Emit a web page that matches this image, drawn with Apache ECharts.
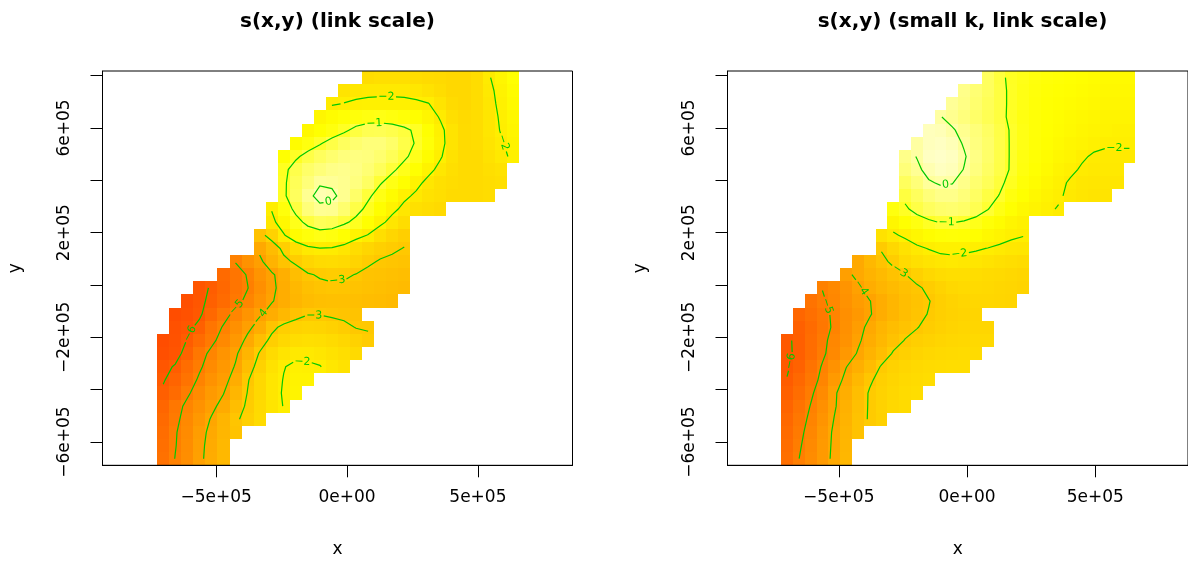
<!DOCTYPE html>
<html>
<head>
<meta charset="utf-8">
<title>s(x,y)</title>
<script src="https://cdn.jsdelivr.net/npm/echarts@6/dist/echarts.min.js"></script>
<style>
  html, body { margin: 0; padding: 0; background: #fff; }
  #chart { width: 1188px; height: 569px; }
</style>
</head>
<body>
<div id="chart"></div>
<script>
const _ = null;

// vis.gam prediction grid: 30 x 30 cell centres
const xGridRange = [-7.02e5, 6.33e5];
const yGridRange = [-6.635e5, 7.922e5];
// plotted region (asp = 1 widens x)
const xLimits = [-9.339e5, 8.613e5];
const yLimits = [-6.887e5, 8.174e5];

const xTicks = [-5e5, 0, 5e5];
const yTicks = [-6e5, -4e5, -2e5, 0, 2e5, 4e5, 6e5, 8e5];
const yTickLabels = [-6e5, -2e5, 2e5, 6e5];
const contourLevels = [-6, -5, -4, -3, -2, -1, 0];
const colourRange = [-8.5, 0.75];

const titles = ['s(x,y) (link scale)', 's(x,y) (small k, link scale)'];

// fitted surface, link scale. first row = top of the plot, null = too far from data
const zFull = [
  [_,_,_,_,_, _,_,_,_,_, _,_,_,_,_, _,_, -2.45,-2.4,-2.4,-2.4,-2.45,-2.5,-2.55,-2.6,-2.6,-2.45,-2.05,-1.75,-1.5],
  [_,_,_,_,_, _,_,_,_,_, _,_,_,_,_, -2.25,-2.15,-2.1,-2.1,-2.1,-2.1,-2.15,-2.3,-2.45,-2.6,-2.6,-2.45,-2.12,-1.85,-1.6],
  [_,_,_,_,_, _,_,_,_,_, _,_,_,_, -2.05,-1.98,-1.92,-1.9,-1.88,-1.88,-1.9,-1.93,-1.98,-2.25,-2.5,-2.6,-2.45,-2.15,-1.9,-1.65],
  [_,_,_,_,_, _,_,_,_,_, _,_,_, -1.75,-1.6,-1.45,-1.35,-1.28,-1.25,-1.3,-1.4,-1.55,-1.75,-2.05,-2.4,-2.55,-2.45,-2.18,-1.95,-1.72],
  [_,_,_,_,_, _,_,_,_,_, _,_, -1.7,-1.5,-1.3,-1.1,-0.85,-0.7,-0.68,-0.75,-0.88,-1.1,-1.5,-1.88,-2.25,-2.5,-2.45,-2.2,-1.98,-1.78],
  [_,_,_,_,_, _,_,_,_,_, _, -1.6,-1.3,-1.05,-0.8,-0.6,-0.45,-0.35,-0.35,-0.5,-0.78,-1.05,-1.4,-1.85,-2.25,-2.5,-2.45,-2.25,-2.05,-1.85],
  [_,_,_,_,_, _,_,_,_,_, -1.5,-1.1,-0.8,-0.6,-0.45,-0.32,-0.28,-0.32,-0.45,-0.65,-0.9,-1.2,-1.6,-1.95,-2.3,-2.5,-2.5,-2.3,-2.12,-1.92],
  [_,_,_,_,_, _,_,_,_,_, -1.15,-0.75,-0.5,-0.35,-0.22,-0.18,-0.25,-0.4,-0.62,-0.9,-1.2,-1.5,-1.85,-2.15,-2.4,-2.5,-2.5,-2.4,-2.3, _],
  [_,_,_,_,_, _,_,_,_,_, -1.1,-0.65,-0.35,-0.05,-0.08,-0.15,-0.3,-0.55,-0.95,-1.25,-1.55,-1.85,-2.15,-2.35,-2.45,-2.5,-2.5,-2.45,-2.4, _],
  [_,_,_,_,_, _,_,_,_,_, -1.1,-0.6,-0.12,0.15,0.1,-0.15,-0.5,-0.9,-1.25,-1.6,-1.88,-2.1,-2.3,-2.4,-2.5,-2.5,-2.5,-2.45, _,_],
  [_,_,_,_,_, _,_,_,_, -1.97,-1.35,-0.85,-0.35,-0.12,-0.15,-0.45,-0.8,-1.15,-1.55,-1.85,-2.15,-2.35,-2.45,-2.55, _,_,_,_,_,_],
  [_,_,_,_,_, _,_,_,_, -2.15,-1.7,-1.2,-0.85,-0.65,-0.7,-0.9,-1.15,-1.5,-1.85,-2.2,-2.45, _,_,_,_,_, _,_,_,_],
  [_,_,_,_,_, _,_,_, -3.2,-2.75,-2.05,-1.6,-1.35,-1.25,-1.3,-1.5,-1.8,-2.03,-2.4,-2.65,-2.85, _,_,_,_,_, _,_,_,_],
  [_,_,_,_,_, _,_,_, -3.85,-3.35,-2.85,-2.4,-2.12,-2.02,-2.05,-2.2,-2.45,-2.65,-2.8,-2.92,-3.02, _,_,_,_,_, _,_,_,_],
  [_,_,_,_,_, _, -4.97,-4.5,-4.15,-3.6,-3.15,-2.9,-2.65,-2.5,-2.48,-2.55,-2.7,-2.9,-3.05,-3.1,-3.15, _,_,_,_,_, _,_,_,_],
  [_,_,_,_,_, -5.6,-5.3,-4.95,-4.45,-4.1,-3.7,-3.3,-3.05,-2.95,-2.9,-2.92,-3.02,-3.15,-3.2,-3.25,-3.3, _,_,_,_,_, _,_,_,_],
  [_,_,_, -6.15,-5.95,-5.65,-5.3,-5.02,-4.6,-4.15,-3.75,-3.45,-3.25,-3.12,-3.08,-3.1,-3.15,-3.22,-3.28,-3.33,-3.38, _,_,_,_,_, _,_,_,_],
  [_,_, -6.35,-6.15,-5.85,-5.55,-5.2,-4.85,-4.45,-4.05,-3.75,-3.5,-3.35,-3.28,-3.25,-3.25,-3.28,-3.32,-3.36,-3.4, _,_,_,_,_, _,_,_,_,_],
  [_, -6.4,-6.3,-6.1,-5.65,-5.2,-4.85,-4.45,-4.1,-3.75,-3.45,-3.2,-3.02,-3.02,-3.08,-3.12,-3.15, _,_,_,_,_, _,_,_,_,_, _,_,_],
  [_, -6.3,-6.15,-5.85,-5.3,-4.95,-4.55,-4.15,-3.75,-3.15,-2.85,-2.72,-2.68,-2.7,-2.78,-2.88,-3.02,-3.03, _,_,_,_,_, _,_,_,_,_, _,_],
  [-6.4,-6.25,-5.98,-5.55,-5.15,-4.75,-4.35,-3.85,-3.3,-2.85,-2.6,-2.45,-2.4,-2.42,-2.5,-2.62,-2.75,-2.93, _,_,_,_,_, _,_,_,_,_, _,_],
  [-6.35,-6.2,-5.8,-5.25,-4.85,-4.45,-4.1,-3.55,-2.95,-2.5,-2.25,-2.12,-2.12,-2.18,-2.3,-2.42,-2.55, _,_,_,_,_, _,_,_,_,_, _,_,_],
  [-6.15,-5.95,-5.5,-5.1,-4.7,-4.35,-3.95,-3.3,-2.75,-2.3,-2.02,-1.9,-1.92,-1.98,-2.15,-2.3, _,_,_,_,_, _,_,_,_,_, _,_,_,_],
  [-6.05,-5.75,-5.35,-4.9,-4.5,-4.2,-3.75,-3.05,-2.6,-2.2,-1.98,-1.85,-1.85, _,_,_,_,_, _,_,_,_,_, _,_,_,_,_, _,_],
  [-5.9,-5.55,-5.1,-4.7,-4.3,-4.02,-3.5,-2.98,-2.6,-2.2,-1.95,-1.8, _,_,_,_,_, _,_,_,_,_, _,_,_,_,_, _,_,_],
  [-5.7,-5.25,-4.85,-4.5,-4.15,-3.8,-3.3,-2.9,-2.55,-2.22,-1.98, _,_,_,_,_, _,_,_,_,_, _,_,_,_,_, _,_,_,_],
  [-5.6,-5.15,-4.75,-4.35,-3.95,-3.55,-3.1,-2.8,-2.5, _,_,_,_,_, _,_,_,_,_, _,_,_,_,_, _,_,_,_,_, _],
  [-5.5,-5.05,-4.7,-4.2,-3.85,-3.5,-3.15, _,_,_,_,_, _,_,_,_,_, _,_,_,_,_, _,_,_,_,_, _,_,_],
  [-5.45,-5.03,-4.65,-4.15,-3.8,-3.45, _,_,_,_,_, _,_,_,_,_, _,_,_,_,_, _,_,_,_,_, _,_,_,_],
  [-5.4,-4.98,-4.62,-4.12,-3.78,-3.45, _,_,_,_,_, _,_,_,_,_, _,_,_,_,_, _,_,_,_,_, _,_,_,_]
];

const zSmallK = [
  [_,_,_,_,_, _,_,_,_,_, _,_,_,_,_, _,_, -0.6,-0.88,-1.12,-1.22,-1.32,-1.4,-1.45,-1.5,-1.55,-1.6,-1.65,-1.65,-1.65],
  [_,_,_,_,_, _,_,_,_,_, _,_,_,_,_, -0.2,-0.4,-0.6,-0.85,-1.1,-1.25,-1.35,-1.45,-1.5,-1.55,-1.6,-1.65,-1.7,-1.7,-1.7],
  [_,_,_,_,_, _,_,_,_,_, _,_,_,_, -0.08,-0.25,-0.45,-0.65,-0.85,-1.1,-1.25,-1.38,-1.48,-1.55,-1.6,-1.65,-1.7,-1.75,-1.75,-1.75],
  [_,_,_,_,_, _,_,_,_,_, _,_,_, 0.02,-0.15,-0.32,-0.5,-0.68,-0.87,-1.1,-1.27,-1.4,-1.5,-1.58,-1.65,-1.7,-1.75,-1.8,-1.82,-1.82],
  [_,_,_,_,_, _,_,_,_,_, _,_, 0.25,0.2,0.05,-0.15,-0.35,-0.55,-0.8,-1.05,-1.25,-1.4,-1.52,-1.6,-1.68,-1.75,-1.8,-1.85,-1.88,-1.9],
  [_,_,_,_,_, _,_,_,_,_, _, 0.02,0.25,0.3,0.2,-0.05,-0.3,-0.5,-0.78,-1.05,-1.25,-1.42,-1.55,-1.65,-1.75,-1.82,-1.9,-1.95,-1.95,-1.95],
  [_,_,_,_,_, _,_,_,_,_, -0.2,0.02,0.3,0.35,0.28,0.05,-0.25,-0.5,-0.78,-1.05,-1.28,-1.45,-1.6,-1.72,-1.82,-1.95,-2.05,-2.08,-2.08,-2.08],
  [_,_,_,_,_, _,_,_,_,_, -0.35,-0.1,0.15,0.28,0.22,-0.02,-0.3,-0.55,-0.8,-1.05,-1.3,-1.5,-1.65,-1.8,-1.92,-2.05,-2.1,-2.12,-2.12, _],
  [_,_,_,_,_, _,_,_,_,_, -0.6,-0.35,-0.05,0.05,0.02,-0.2,-0.45,-0.65,-0.9,-1.15,-1.4,-1.6,-1.75,-1.9,-2.05,-2.15,-2.18,-2.2,-2.2, _],
  [_,_,_,_,_, _,_,_,_,_, -0.85,-0.6,-0.35,-0.2,-0.2,-0.35,-0.55,-0.82,-1.02,-1.3,-1.52,-1.7,-1.85,-1.94,-2.1,-2.2,-2.25,-2.25, _,_],
  [_,_,_,_,_, _,_,_,_, -1.3,-1.1,-0.8,-0.6,-0.48,-0.45,-0.52,-0.7,-0.98,-1.25,-1.5,-1.7,-1.82,-1.93,-2.03, _,_,_,_,_,_],
  [_,_,_,_,_, _,_,_,_, -1.75,-1.5,-1.28,-1.1,-0.97,-0.97,-1.05,-1.2,-1.4,-1.6,-1.78,-1.9, _,_,_,_,_, _,_,_,_],
  [_,_,_,_,_, _,_,_, -2.3,-2.08,-1.9,-1.72,-1.58,-1.45,-1.42,-1.45,-1.55,-1.7,-1.82,-1.92,-1.98, _,_,_,_,_, _,_,_,_],
  [_,_,_,_,_, _,_,_, -2.95,-2.6,-2.3,-2.1,-1.98,-1.9,-1.88,-1.9,-1.95,-2.01,-2.08,-2.15,-2.2, _,_,_,_,_, _,_,_,_],
  [_,_,_,_,_, _, -3.85,-3.45,-3.15,-2.88,-2.55,-2.38,-2.25,-2.15,-2.12,-2.15,-2.2,-2.28,-2.35,-2.42,-2.48, _,_,_,_,_, _,_,_,_],
  [_,_,_,_,_, -4.15,-3.85,-3.6,-3.4,-3.2,-3.02,-2.78,-2.6,-2.48,-2.42,-2.42,-2.45,-2.5,-2.55,-2.6,-2.65, _,_,_,_,_, _,_,_,_],
  [_,_,_, -4.98,-4.75,-4.45,-4.1,-3.75,-3.55,-3.38,-3.22,-3.08,-2.9,-2.72,-2.6,-2.55,-2.55,-2.58,-2.62,-2.66,-2.7, _,_,_,_,_, _,_,_,_],
  [_,_, -5.35,-5.08,-4.8,-4.5,-4.25,-4.02,-3.75,-3.5,-3.3,-3.15,-3.02,-2.85,-2.72,-2.65,-2.62,-2.62,-2.65,-2.68, _,_,_,_,_, _,_,_,_,_],
  [_, -5.7,-5.45,-5.2,-4.88,-4.6,-4.35,-4.05,-3.75,-3.5,-3.3,-3.12,-2.98,-2.85,-2.75,-2.7,-2.68, _,_,_,_,_, _,_,_,_,_, _,_,_],
  [_, -5.85,-5.55,-5.25,-4.9,-4.55,-4.2,-3.85,-3.55,-3.32,-3.15,-3.02,-2.88,-2.78,-2.7,-2.66,-2.64,-2.64, _,_,_,_,_, _,_,_,_,_, _,_],
  [-6.08,-5.88,-5.5,-5.15,-4.8,-4.5,-4.1,-3.75,-3.45,-3.2,-2.98,-2.85,-2.75,-2.68,-2.62,-2.6,-2.58,-2.58, _,_,_,_,_, _,_,_,_,_, _,_],
  [-6.08,-5.9,-5.5,-5.1,-4.75,-4.35,-3.95,-3.6,-3.3,-2.95,-2.8,-2.7,-2.62,-2.58,-2.55,-2.52,-2.52, _,_,_,_,_, _,_,_,_,_, _,_,_],
  [-6.06,-5.8,-5.35,-4.95,-4.5,-4.02,-3.7,-3.35,-2.95,-2.75,-2.65,-2.58,-2.52,-2.48,-2.45,-2.45, _,_,_,_,_, _,_,_,_,_, _,_,_,_],
  [-5.98,-5.65,-5.25,-4.85,-4.3,-3.85,-3.45,-3.08,-2.82,-2.68,-2.58,-2.5,-2.45, _,_,_,_,_, _,_,_,_,_, _,_,_,_,_, _,_],
  [-5.85,-5.5,-5.1,-4.7,-4.08,-3.72,-3.3,-2.95,-2.75,-2.62,-2.52,-2.45, _,_,_,_,_, _,_,_,_,_, _,_,_,_,_, _,_,_],
  [-5.75,-5.35,-4.98,-4.55,-4.07,-3.65,-3.25,-2.95,-2.75,-2.6,-2.5, _,_,_,_,_, _,_,_,_,_, _,_,_,_,_, _,_,_,_],
  [-5.65,-5.25,-4.88,-4.45,-3.98,-3.6,-3.2,-2.95,-2.78, _,_,_,_,_, _,_,_,_,_, _,_,_,_,_, _,_,_,_,_, _],
  [-5.55,-5.15,-4.8,-4.35,-3.9,-3.55,-3.2, _,_,_,_,_, _,_,_,_,_, _,_,_,_,_, _,_,_,_,_, _,_,_],
  [-5.5,-5.08,-4.72,-4.3,-3.88,-3.5, _,_,_,_,_, _,_,_,_,_, _,_,_,_,_, _,_,_,_,_, _,_,_,_],
  [-5.45,-5.01,-4.68,-4.28,-3.85,-3.48, _,_,_,_,_, _,_,_,_,_, _,_,_,_,_, _,_,_,_,_, _,_,_,_]
];

const FONT = '"DejaVu Sans", sans-serif';
const GREEN = '#00c800';
const plotBoxes = [{ left: 102.5 }, { left: 727.5 }];
const BOX_TOP = 71, BOX_W = 470, BOX_H = 394.3;

const nCol = zFull[0].length, nRow = zFull.length;
const dxg = (xGridRange[1] - xGridRange[0]) / (nCol - 1);
const dyg = (yGridRange[1] - yGridRange[0]) / (nRow - 1);
[zFull, zSmallK].forEach(z => z.forEach((row, i) => {
  if (row.length !== nCol) console.warn('row', i, 'has', row.length);
}));

// R heat.colors(n)
function heatColors(n) {
  const j = Math.floor(n / 4), i = n - j;
  const hex = v => Math.round(v).toString(16).padStart(2, '0');
  const cols = [];
  for (let k = 0; k < i; k++) cols.push('#ff' + hex(255 * k / (i - 1)) + '00');
  for (let k = 0; k < j; k++) {
    const s = (1 - 1 / (2 * j)) - k * ((1 - 1 / j) / (j - 1));
    cols.push('#ffff' + hex(255 * (1 - s)));
  }
  return cols;
}

function sci(v) {
  return v.toExponential().replace(/e([+-])(\d)$/, 'e$10$2').replace('-', '\u2212');
}

const colX = c => xGridRange[0] + c * dxg;
const rowY = r => yGridRange[1] - r * dyg;

function cellsOf(z) {
  const out = [];
  z.forEach((row, r) => row.forEach((v, c) => {
    if (v !== null) out.push([colX(c), rowY(r), v]);
  }));
  return out;
}

function joinSegments(segs) {
  const byKey = {}, pts = {};
  segs.forEach((s, i) => s.forEach(p => {
    (byKey[p.key] = byKey[p.key] || []).push(i);
    pts[p.key] = p;
  }));
  const used = segs.map(() => false);
  const walk = (idx, key) => {
    const keys = [key];
    while (idx !== undefined && !used[idx]) {
      used[idx] = true;
      const s = segs[idx];
      key = s[0].key === key ? s[1].key : s[0].key;
      keys.push(key);
      idx = byKey[key].find(j => !used[j]);
    }
    return keys.map(k => pts[k]);
  };
  const lines = [];
  Object.keys(byKey).forEach(k => {
    if (byKey[k].length === 1 && !used[byKey[k][0]]) lines.push(walk(byKey[k][0], k));
  });
  segs.forEach((s, i) => { if (!used[i]) lines.push(walk(i, s[0].key)); });
  return lines;
}

// marching squares over the cell centres, skipping cells that touch a masked value
function contoursOf(z) {
  const all = [];
  contourLevels.forEach(level => {
    const segs = [];
    const cut = (u, v) => (u > level) !== (v > level);
    const f = (u, v) => (level - u) / (v - u);
    for (let r = 0; r < nRow - 1; r++) {
      for (let c = 0; c < nCol - 1; c++) {
        const a = z[r][c], b = z[r][c + 1], d = z[r + 1][c], e = z[r + 1][c + 1];
        if (a === null || b === null || d === null || e === null) continue;
        const top = cut(a, b) ? { key: 'h' + r + '_' + c, c: c + f(a, b), r: r } : null;
        const right = cut(b, e) ? { key: 'v' + r + '_' + (c + 1), c: c + 1, r: r + f(b, e) } : null;
        const bottom = cut(d, e) ? { key: 'h' + (r + 1) + '_' + c, c: c + f(d, e), r: r + 1 } : null;
        const left = cut(a, d) ? { key: 'v' + r + '_' + c, c: c, r: r + f(a, d) } : null;
        const hits = [top, right, bottom, left].filter(Boolean);
        if (hits.length === 2) segs.push(hits);
        else if (hits.length === 4) {
          const centre = (a + b + d + e) / 4;
          if ((centre > level) === (a > level)) segs.push([top, right], [bottom, left]);
          else segs.push([top, left], [right, bottom]);
        }
      }
    }
    joinSegments(segs).forEach(line => all.push({
      label: level === 0 ? '0' : '\u2212' + Math.abs(level),
      pts: line.map(p => [colX(p.c), rowY(p.r)])
    }));
  });
  return all;
}

const LABEL_SIZE = 11;
function labelWidth(t) {
  let w = 0;
  for (const ch of t) w += ch === '\u2212' ? 0.838 : 0.636;
  return w * LABEL_SIZE;
}

// draw one contour; its label goes on the flattest (most level) stretch, line broken under it
function drawContour(px, label) {
  const L = [0];
  for (let i = 1; i < px.length; i++) {
    L.push(L[i - 1] + Math.hypot(px[i][0] - px[i - 1][0], px[i][1] - px[i - 1][1]));
  }
  const T = L[L.length - 1];
  const at = s => {
    let i = 1;
    while (i < L.length - 1 && L[i] < s) i++;
    const seg = L[i] - L[i - 1];
    const t = seg > 0 ? Math.min(1, Math.max(0, (s - L[i - 1]) / seg)) : 0;
    return [px[i - 1][0] + t * (px[i][0] - px[i - 1][0]), px[i - 1][1] + t * (px[i][1] - px[i - 1][1])];
  };
  const sub = (s0, s1) => {
    const out = [at(s0)];
    for (let i = 0; i < px.length; i++) if (L[i] > s0 && L[i] < s1) out.push(px[i]);
    out.push(at(s1));
    return out;
  };
  const lineStyle = { stroke: GREEN, lineWidth: 1.2, fill: null };
  const w = labelWidth(label), gap = 1.5, pad = 4;
  const children = [];
  if (T < w + 8) {
    children.push({ type: 'polyline', shape: { points: px }, style: lineStyle });
    return { type: 'group', children };
  }
  let best = null;
  for (let s = 2; s + w <= T - 2; s += 1) {
    const a = at(s), b = at(s + w);
    const ux = b[0] - a[0], uy = b[1] - a[1], len = Math.hypot(ux, uy) || 1;
    let dev = 0;
    for (let i = 0; i < px.length; i++) {
      if (L[i] > s - pad && L[i] < s + w + pad) {
        const dd = Math.abs((px[i][0] - a[0]) * uy - (px[i][1] - a[1]) * ux) / len;
        if (dd > dev) dev = dd;
      }
    }
    const midY = (a[1] + b[1]) / 2;
    const score = 3 * Math.abs(uy) / len + dev + 0.5 * (w - len)
      + 0.0005 * Math.abs(s + w / 2 - T / 2) + 0.0008 * midY;
    if (!best || score < best.score) best = { s, a, b, score };
  }
  const closed = Math.hypot(px[0][0] - px[px.length - 1][0], px[0][1] - px[px.length - 1][1]) < 0.01;
  const s0 = best.s - gap, s1 = best.s + w + gap;
  if (closed) {
    children.push({ type: 'polyline', shape: { points: sub(s1, T).concat(sub(0, Math.max(0, s0)).slice(1)) }, style: lineStyle });
  } else {
    if (s0 > 0.5) children.push({ type: 'polyline', shape: { points: sub(0, s0) }, style: lineStyle });
    if (T - s1 > 0.5) children.push({ type: 'polyline', shape: { points: sub(s1, T) }, style: lineStyle });
  }
  let ang = Math.atan2(-(best.b[1] - best.a[1]), best.b[0] - best.a[0]);
  if (ang > Math.PI / 2) ang -= Math.PI;
  if (ang < -Math.PI / 2) ang += Math.PI;
  children.push({
    type: 'text',
    x: (best.a[0] + best.b[0]) / 2,
    y: (best.a[1] + best.b[1]) / 2,
    rotation: ang,
    style: {
      text: label, fill: GREEN, font: LABEL_SIZE + 'px ' + FONT,
      align: 'center', verticalAlign: 'middle', textAlign: 'center', textVerticalAlign: 'middle'
    }
  });
  return { type: 'group', children };
}

function heatSeries(gi, z) {
  return {
    type: 'custom', xAxisIndex: gi, yAxisIndex: gi, z: 2, silent: true,
    data: cellsOf(z),
    renderItem(params, api) {
      const x = api.value(0), y = api.value(1);
      const p0 = api.coord([x - dxg / 2, y + dyg / 2]);
      const p1 = api.coord([x + dxg / 2, y - dyg / 2]);
      const x0 = Math.round(p0[0]), y0 = Math.round(p0[1]);
      const x1 = Math.round(p1[0]), y1 = Math.round(p1[1]);
      return { type: 'rect', shape: { x: x0, y: y0, width: x1 - x0, height: y1 - y0 }, style: { fill: api.visual('color') } };
    }
  };
}

function contourSeries(gi, z) {
  const lines = contoursOf(z);
  return {
    type: 'custom', xAxisIndex: gi, yAxisIndex: gi, z: 4, silent: true,
    data: lines.map((l, i) => [l.pts[0][0], l.pts[0][1], i]),
    renderItem(params, api) {
      const line = lines[api.value(2)];
      return drawContour(line.pts.map(p => api.coord(p)), line.label);
    }
  };
}

const textStyle = { color: '#000', fontFamily: FONT, fontSize: 17 };
const heat = heatColors(50);

const option = {
  animation: false,
  backgroundColor: '#fff',
  grid: plotBoxes.map(b => ({
    left: b.left, top: BOX_TOP, width: BOX_W, height: BOX_H,
    show: true, borderColor: '#000', borderWidth: 1, backgroundColor: 'rgba(0,0,0,0)', z: 3
  })),
  xAxis: plotBoxes.map((b, i) => ({
    type: 'value', gridIndex: i, min: xLimits[0], max: xLimits[1],
    name: 'x', nameLocation: 'middle', nameGap: 76, nameTextStyle: textStyle,
    axisLine: { show: true, onZero: false, lineStyle: { color: '#000', width: 1 } },
    axisTick: { show: true, length: 12, customValues: xTicks, lineStyle: { color: '#000', width: 1 } },
    axisLabel: Object.assign({ customValues: xTicks, formatter: sci, margin: 24 }, textStyle),
    splitLine: { show: false }
  })),
  yAxis: plotBoxes.map((b, i) => ({
    type: 'value', gridIndex: i, min: yLimits[0], max: yLimits[1],
    name: 'y', nameLocation: 'middle', nameGap: 78, nameTextStyle: textStyle,
    axisLine: { show: true, onZero: false, lineStyle: { color: '#000', width: 1 } },
    axisTick: { show: true, length: 12, customValues: yTicks, lineStyle: { color: '#000', width: 1 } },
    axisLabel: Object.assign({ customValues: yTickLabels, formatter: sci, rotate: 90, margin: 29 }, textStyle),
    splitLine: { show: false }
  })),
  visualMap: [0, 2].map(si => ({
    type: 'continuous', show: false, seriesIndex: si, dimension: 2,
    min: colourRange[0], max: colourRange[1], inRange: { color: heat }
  })),
  graphic: titles.map((t, i) => ({
    type: 'text', x: plotBoxes[i].left + BOX_W / 2, y: 22,
    style: {
      text: t, fill: '#000', font: 'bold 20px ' + FONT,
      align: 'center', verticalAlign: 'middle', textAlign: 'center', textVerticalAlign: 'middle'
    }
  })),
  series: [
    heatSeries(0, zFull),
    contourSeries(0, zFull),
    heatSeries(1, zSmallK),
    contourSeries(1, zSmallK)
  ]
};

const chart = echarts.init(document.getElementById('chart'), null, { renderer: 'canvas' });
chart.setOption(option);
</script>
</body>
</html>
